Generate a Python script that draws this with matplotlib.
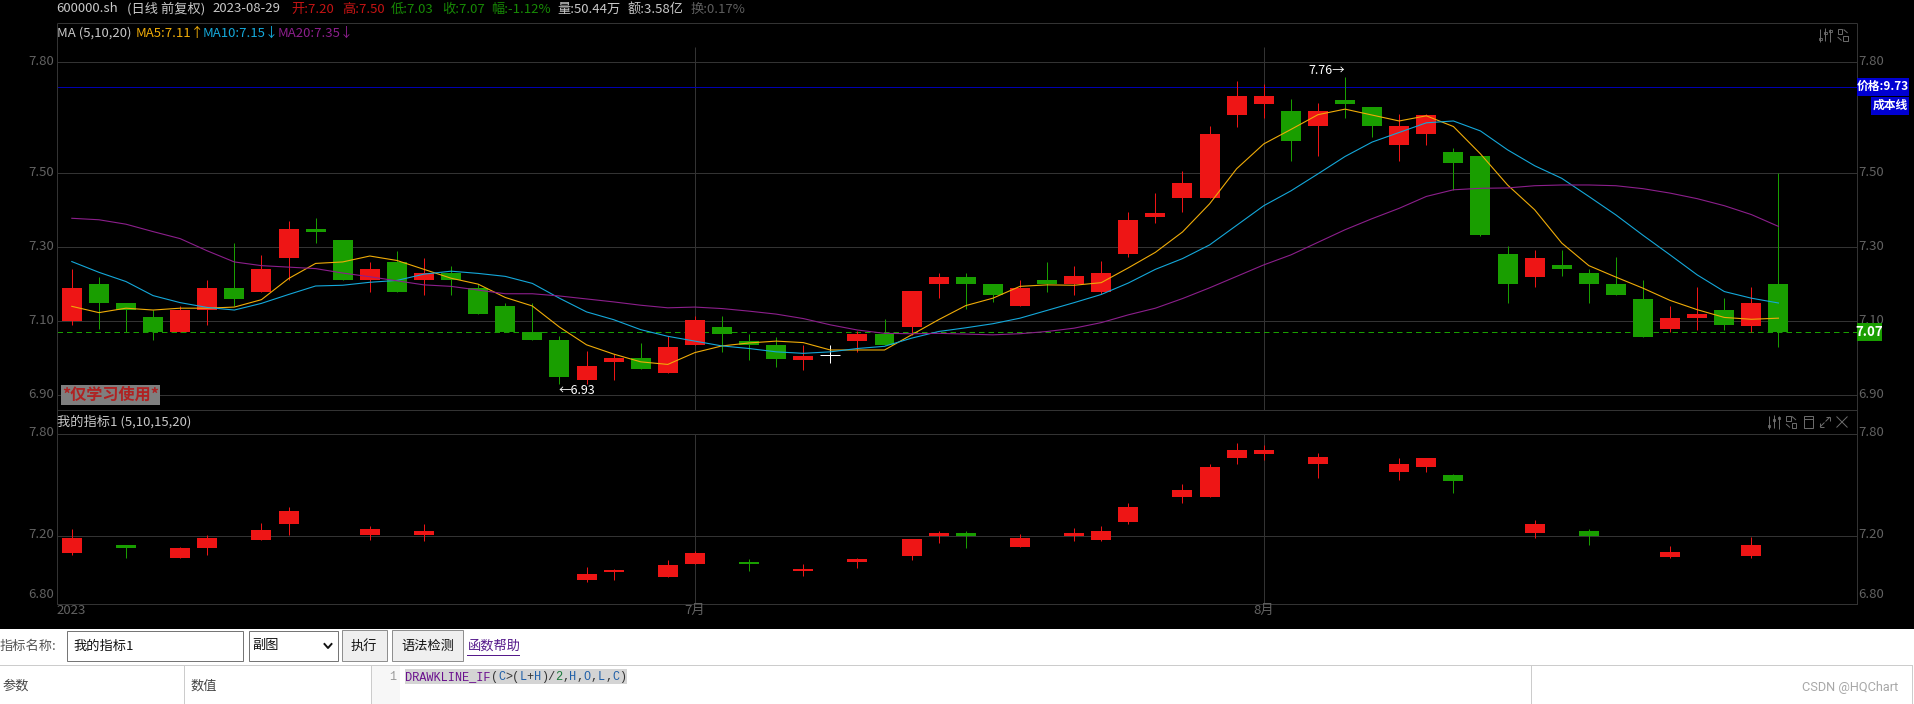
import matplotlib
matplotlib.use('Agg')
import matplotlib.pyplot as plt
from matplotlib.patches import Rectangle

plt.rcParams['font.family'] = ['Noto Sans CJK SC', 'DejaVu Sans']

# candles
opens = [7.10, 7.20, 7.15, 7.11, 7.07, 7.13, 7.19, 7.18, 7.27, 7.35, 7.32, 7.21, 7.26, 7.21, 7.23, 7.19,
         7.14, 7.07, 7.05, 6.94, 6.99, 7.00, 6.96, 7.036, 7.085, 7.047, 7.036, 6.995, 7.008, 7.047, 7.066, 7.085,
         7.20, 7.22, 7.20, 7.14, 7.212, 7.20, 7.18, 7.282, 7.382, 7.433, 7.433, 7.658, 7.687, 7.668, 7.628, 7.698,
         7.679, 7.577, 7.606, 7.558, 7.547, 7.282, 7.22, 7.252, 7.23, 7.20, 7.16, 7.079, 7.109, 7.131, 7.087, 7.20]
highs = [7.24, 7.22, 7.15, 7.13, 7.14, 7.21, 7.31, 7.28, 7.37, 7.38, 7.32, 7.26, 7.29, 7.27, 7.25, 7.20,
         7.15, 7.15, 7.06, 7.02, 7.01, 7.04, 7.06, 7.115, 7.115, 7.065, 7.057, 7.036, 7.036, 7.074, 7.106, 7.182,
         7.23, 7.23, 7.20, 7.212, 7.26, 7.25, 7.262, 7.395, 7.446, 7.505, 7.628, 7.749, 7.74, 7.70, 7.689, 7.76,
         7.679, 7.659, 7.659, 7.568, 7.547, 7.304, 7.293, 7.293, 7.241, 7.274, 7.212, 7.141, 7.193, 7.163, 7.193, 7.50]
lows = [7.09, 7.08, 7.07, 7.05, 7.07, 7.09, 7.14, 7.18, 7.21, 7.31, 7.21, 7.18, 7.18, 7.17, 7.17, 7.12,
        7.07, 7.05, 6.93, 6.93, 6.94, 6.97, 6.96, 7.036, 7.016, 6.995, 6.977, 6.967, 6.986, 7.016, 7.036, 7.063,
        7.162, 7.132, 7.153, 7.14, 7.18, 7.17, 7.172, 7.273, 7.365, 7.394, 7.433, 7.626, 7.648, 7.534, 7.545, 7.648,
        7.597, 7.534, 7.577, 7.455, 7.33, 7.15, 7.192, 7.221, 7.15, 7.171, 7.058, 7.07, 7.077, 7.077, 7.07, 7.03]
closes = [7.19, 7.15, 7.13, 7.07, 7.13, 7.19, 7.16, 7.24, 7.35, 7.34, 7.21, 7.24, 7.18, 7.23, 7.21, 7.12,
          7.07, 7.05, 6.95, 6.98, 7.00, 6.97, 7.03, 7.104, 7.066, 7.036, 6.998, 7.006, 7.008, 7.066, 7.036, 7.182,
          7.22, 7.20, 7.171, 7.19, 7.20, 7.222, 7.23, 7.374, 7.393, 7.474, 7.606, 7.709, 7.709, 7.587, 7.668, 7.687,
          7.628, 7.628, 7.658, 7.528, 7.333, 7.20, 7.271, 7.241, 7.20, 7.171, 7.058, 7.109, 7.12, 7.09, 7.15, 7.07]

ma5 = [7.140, 7.123, 7.135, 7.130, 7.135, 7.135, 7.138, 7.158, 7.215, 7.256, 7.260, 7.276, 7.264, 7.240, 7.216, 7.200,
       7.164, 7.141, 7.084, 7.036, 7.011, 6.990, 6.983, 7.015, 7.033, 7.041, 7.046, 7.042, 7.022, 7.022, 7.022, 7.063,
       7.104, 7.142, 7.162, 7.194, 7.198, 7.197, 7.204, 7.244, 7.286, 7.341, 7.417, 7.512, 7.579, 7.618, 7.658, 7.673,
       7.657, 7.641, 7.655, 7.626, 7.552, 7.468, 7.401, 7.311, 7.250, 7.219, 7.189, 7.156, 7.131, 7.110, 7.105, 7.108]
ma10 = [7.261, 7.232, 7.207, 7.169, 7.150, 7.137, 7.130, 7.148, 7.172, 7.195, 7.197, 7.205, 7.210, 7.227, 7.235, 7.229,
        7.221, 7.202, 7.162, 7.125, 7.104, 7.077, 7.059, 7.046, 7.033, 7.026, 7.017, 7.013, 7.017, 7.026, 7.032, 7.054,
        7.072, 7.082, 7.093, 7.108, 7.129, 7.150, 7.172, 7.203, 7.240, 7.269, 7.306, 7.359, 7.412, 7.452, 7.498, 7.545,
        7.584, 7.610, 7.636, 7.641, 7.614, 7.563, 7.520, 7.486, 7.437, 7.387, 7.332, 7.279, 7.225, 7.180, 7.162, 7.149]
ma20 = [7.378, 7.374, 7.362, 7.342, 7.323, 7.290, 7.260, 7.250, 7.246, 7.242, 7.230, 7.220, 7.209, 7.198, 7.194, 7.184,
        7.174, 7.174, 7.168, 7.160, 7.152, 7.143, 7.136, 7.138, 7.134, 7.127, 7.119, 7.107, 7.090, 7.076, 7.067, 7.066,
        7.067, 7.065, 7.063, 7.066, 7.072, 7.081, 7.096, 7.117, 7.135, 7.161, 7.190, 7.221, 7.252, 7.279, 7.313, 7.347,
        7.377, 7.405, 7.437, 7.455, 7.459, 7.460, 7.466, 7.468, 7.468, 7.466, 7.458, 7.446, 7.431, 7.412, 7.388, 7.356]

# candles the sub panel keeps (C>(L+H)/2)
sub_idx = [0, 2, 4, 5, 7, 8, 11, 13, 19, 20, 22, 23, 25, 27, 29, 31, 32, 33, 35, 37, 38, 39, 41, 42, 43, 44, 46,
           49, 50, 51, 54, 56, 59, 62]

main_ticks = [7.80, 7.50, 7.30, 7.10, 6.90]
sub_ticks = [7.80, 7.20, 6.80]
month_idx = [23, 44]
month_labels = ['7月', '8月']
last_price = 7.07
cost_pos = 7.732

RED = '#ee1515'
GREEN = '#199e00'
GRID = '#333333'
AXTXT = '#626262'
MA5_COL = '#f0ac08'
MA10_COL = '#14a8da'
MA20_COL = '#8c1f8c'
PX = 0.72  # one pixel in points at dpi 100
W, H = 1914, 704
L, R = 56.5, 1856.5


def panel(top, bottom):
    return fig.add_axes([L / W, 1 - bottom / H, (R - L) / W, (bottom - top) / H])


def candles(ax, idx):
    for i in idx:
        o, h, l, c = opens[i], highs[i], lows[i], closes[i]
        col = RED if c > o else GREEN
        if c == o:
            col = 'white'
        ax.vlines(i, l, h, color=col, lw=PX, zorder=3)
        if c == o:
            ax.hlines(c, i - 0.37, i + 0.37, color=col, lw=PX, zorder=3)
        else:
            ax.bar(i, abs(c - o), bottom=min(o, c), width=0.738, color=col, lw=0, zorder=3, antialiased=False)


fig = plt.figure(figsize=(W / 100, H / 100), dpi=100, facecolor='black')
xlim = ((L - 71.8) / 27.09, (R - 71.8) / 27.09)

ax1 = panel(23.3, 410.3)
ax1.set_xlim(xlim)
ax1.set_ylim(6.859, 7.905)
ax2 = panel(434.3, 604.3)
ax2.set_xlim(xlim)
ax2.set_ylim(6.80, 7.80)
for ax in (ax1, ax2):
    ax.set_facecolor('black')
    ax.set_xticks([])
    ax.set_yticks([])
    for s in ax.spines.values():
        s.set_visible(False)

for t in main_ticks:
    ax1.axhline(t, color=GRID, lw=PX, zorder=1)
    ax1.text(-0.0015, t + 0.003, '%.2f' % t, transform=ax1.get_yaxis_transform(), ha='right', va='center',
             color=AXTXT, fontsize=9.5)
    ax1.text(1.0012, t + 0.003, '%.2f' % t, transform=ax1.get_yaxis_transform(), ha='left', va='center',
             color=AXTXT, fontsize=9.5)
for t in sub_ticks:
    ax2.axhline(t, color=GRID, lw=PX, zorder=1, clip_on=False)
    va = 'bottom' if t == 6.80 else 'center'
    ty = t + 0.012 if t != 6.80 else t + 0.02
    ax2.text(-0.0015, ty, '%.2f' % t, transform=ax2.get_yaxis_transform(), ha='right', va=va, color=AXTXT, fontsize=9.5)
    ax2.text(1.0012, ty, '%.2f' % t, transform=ax2.get_yaxis_transform(), ha='left', va=va, color=AXTXT, fontsize=9.5)

for m in month_idx:
    ax1.vlines(m, 6.859, 7.84, color=GRID, lw=PX, zorder=1)
    ax2.axvline(m, color=GRID, lw=PX, zorder=1)

ax1.axhline(cost_pos, color='#0000b0', lw=PX, zorder=2)
ax1.axhline(last_price, color=GREEN, lw=PX, ls=(0, (5.5, 4)), zorder=2)

all_idx = list(range(len(closes)))
candles(ax1, all_idx)
candles(ax2, sub_idx)
ax1.plot(all_idx, ma5, color=MA5_COL, lw=0.8, zorder=4)
ax1.plot(all_idx, ma10, color=MA10_COL, lw=0.8, zorder=4)
ax1.plot(all_idx, ma20, color=MA20_COL, lw=0.8, zorder=4)

# everything that is not price data: pixel overlay
ov = fig.add_axes([0, 0, 1, 1], zorder=10)
ov.set_xlim(0, W)
ov.set_ylim(H, 0)
ov.axis('off')


def txt(x, y, s, color='#c8c8c8', size=9.5, **kw):
    kw.setdefault('va', 'center')
    return ov.text(x, y, s, color=color, fontsize=size, **kw)


def box(x0, y0, x1, y1, fc='none', ec='none', lw=PX, z=1):
    ov.add_patch(Rectangle((x0, y0), x1 - x0, y1 - y0, fc=fc, ec=ec, lw=lw, zorder=z))


def seg(x0, y0, x1, y1, color='#6e6e6e', lw=0.7):
    ov.plot([x0, x1], [y0, y1], color=color, lw=lw, solid_capstyle='butt')


# panel frame
seg(L, 23.3, R, 23.3, GRID, PX)
seg(L, 410.3, R, 410.3, GRID, PX)
seg(L, 23.3, L, 604.3, GRID, PX)
seg(R, 23.3, R, 604.3, GRID, PX)

# header
red_txt, grn_txt = '#c41414', '#178a05'
for x, s, c in [(56, '600000.sh', '#c8c8c8'), (127, '(日线 前复权)', '#c8c8c8'), (212, '2023-08-29', '#c8c8c8'),
                (291, '开:7.20', red_txt), (342, '高:7.50', red_txt), (391, '低:7.03', grn_txt),
                (442, '收:7.07', grn_txt), (491, '幅:-1.12%', grn_txt), (557.5, '量:50.44万', '#c8c8c8'),
                (628, '额:3.58亿', '#c8c8c8'), (690.6, '换:0.17%', '#5e5e5e')]:
    txt(x, 9, s, c, 9.5)
for x, s, c in [(57, 'MA (5,10,20)', '#c8c8c8'), (136, 'MA5:7.11↑', MA5_COL),
                (203, 'MA10:7.15↓', MA10_COL), (278, 'MA20:7.35↓', MA20_COL)]:
    txt(x, 33, s, c, 9.5)
txt(57, 421.3, '我的指标1 (5,10,15,20)', '#c8c8c8', 9.5)

# annotations on the chart
txt(559, 390, '←6.93', 'white', 9)
txt(1345.5, 70.3, '7.76→', 'white', 9, ha='right')
box(60.8, 385, 160.4, 405.3, fc='#7f7f7f')
txt(110.6, 395, '*仅学习使用*', '#b02222', 11.6, ha='center', fontweight='bold')

# right side price tags
box(1856.5, 78, 1909, 95.7, fc='#0000d2', z=3)
txt(1883, 86.5, '价格:9.73', 'white', 8.5, ha='center', fontweight='bold', zorder=4)
box(1871, 97, 1909, 115, fc='#0000d2', z=3)
txt(1890, 105.5, '成本线', 'white', 8.5, ha='center', fontweight='bold', zorder=4)
box(1856.5, 322.7, 1882, 340.7, fc=GREEN, z=3)
txt(1869, 331.5, '7.07', 'white', 9.5, ha='center', fontweight='bold', zorder=4)

# month axis
txt(71, 610, '2023', AXTXT, 9.5, ha='center')
for m, s in zip(month_idx, month_labels):
    txt(71.8 + 27.09 * m, 610, s, AXTXT, 9.5, ha='center')


# panel icons
def icon_sliders(x, y):
    for dx, top, bot, mark in [(-5, -6, 7, 4), (0, -7, 6, -2), (5, -6, 7, -4)]:
        seg(x + dx, y + top, x + dx, y + bot)
        box(x + dx - 1.2, y + mark - 1.2, x + dx + 1.2, y + mark + 1.2, ec='#6e6e6e', lw=0.6)


def icon_swap(x, y):
    box(x - 5, y - 6, x - 0.5, y - 1, ec='#6e6e6e', lw=0.7)
    box(x + 0.5, y + 1, x + 5, y + 6, ec='#6e6e6e', lw=0.7)
    seg(x + 1, y - 5.5, x + 5, y - 2)
    seg(x - 5, y + 2, x - 1, y + 5.5)


def icon_window(x, y):
    box(x - 4.5, y - 6, x + 4.5, y + 6, ec='#6e6e6e', lw=0.7)
    seg(x - 4.5, y - 3, x + 4.5, y - 3)


def icon_expand(x, y):
    seg(x + 0.5, y - 0.5, x + 5, y - 5)
    seg(x - 0.5, y + 0.5, x - 5, y + 5)
    seg(x + 1, y - 5, x + 5, y - 5)
    seg(x + 5, y - 5, x + 5, y - 1)
    seg(x - 5, y + 1, x - 5, y + 5)
    seg(x - 5, y + 5, x - 1, y + 5)


def icon_close(x, y):
    seg(x - 5.5, y - 5.5, x + 5.5, y + 5.5)
    seg(x - 5.5, y + 5.5, x + 5.5, y - 5.5)


icon_sliders(1825.4, 35)
icon_swap(1842.6, 35)
icon_sliders(1774, 422)
icon_swap(1791, 422)
icon_window(1808, 422)
icon_expand(1825, 422)
icon_close(1842, 422)

# editor strip below the chart
box(0, 629, W, H, fc='white')
txt(0, 646, '指标名称:', '#555555', 9.5, zorder=3)
box(66.5, 630.5, 243.3, 660.7, fc='white', ec='#767676', z=2)
txt(73, 646, '我的指标1', '#111111', 9.5, zorder=3)
box(248.7, 630.5, 337.5, 661, fc='white', ec='#767676', z=2)
txt(252.7, 646, '副图', '#111111', 9.5, zorder=3)
ov.plot([324.5, 328, 331.5], [644, 648, 644], color='#111111', lw=1.4, zorder=3)
box(341.5, 630, 386.6, 660.7, fc='#efefef', ec='#8f8f8f', z=2)
txt(364, 646, '执行', '#111111', 9.5, ha='center', zorder=3)
box(391.5, 630, 463.4, 660.7, fc='#efefef', ec='#8f8f8f', z=2)
txt(427.5, 646, '语法检测', '#111111', 9.5, ha='center', zorder=3)
txt(467.4, 646, '函数帮助', '#551a8b', 9.5, zorder=3)
ov.plot([467.4, 519], [655, 655], color='#551a8b', lw=PX, zorder=3)

box(370.5, 665, 400.4, H, fc='#f7f7f7', z=2)
ov.plot([0, 1912], [664.7, 664.7], color='#cccccc', lw=PX, zorder=3)
for vx in [184.4, 370.5, 1531.4, 1912]:
    ov.plot([vx, vx], [664.7, H], color='#cccccc', lw=PX, zorder=3)
txt(3, 686, '参数', '#444444', 9.5, zorder=3)
txt(190, 686, '数值', '#444444', 9.5, zorder=3)
txt(396, 677, '1', '#999999', 8.5, ha='right', family='Liberation Mono', zorder=3)
box(405, 669.3, 626.8, 684, fc='#d4d4d4', z=2)
code_parts = [('DRAWKLINE_IF', '#6a0f8e'), ('(', '#333333'), ('C', '#1f5fa8'), ('>(', '#333333'), ('L', '#1f5fa8'),
              ('+', '#333333'), ('H', '#1f5fa8'), (')/', '#333333'), ('2', '#1a7a3a'), (',', '#333333'),
              ('H', '#1f5fa8'), (',', '#333333'), ('O', '#1f5fa8'), (',', '#333333'), ('L', '#1f5fa8'),
              (',', '#333333'), ('C', '#1f5fa8'), (')', '#333333')]
cx = 405.0
for part, col in code_parts:
    txt(cx, 677, part, col, 8.6, family='Liberation Mono', zorder=3)
    cx += 7.15 * len(part)
txt(1898, 687.3, 'CSDN @HQChart', '#a8a8a8', 9.2, ha='right', family='Roboto', zorder=3)

fig.savefig('out.png', dpi=100, facecolor='black')
